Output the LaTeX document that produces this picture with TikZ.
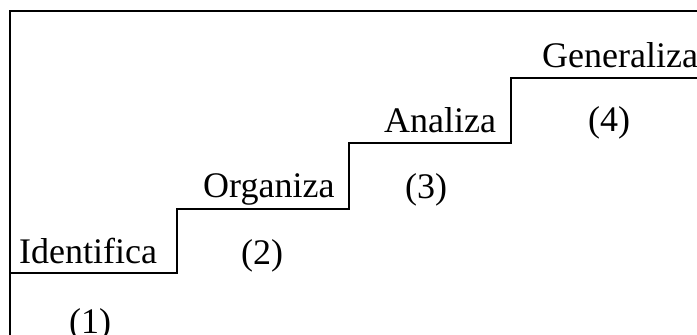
\documentclass[tikz,border=0pt]{standalone}
\usepackage{fontspec}
\setmainfont{Liberation Serif}
\begin{document}
\begin{tikzpicture}[x=1pt,y=-1pt,
  stairline/.style={line width=2pt, line join=miter},
  steplabel/.style={anchor=base west, inner sep=0pt, font=\fontsize{36}{40}\selectfont},
  numlabel/.style={anchor=base west, inner sep=0pt, font=\fontsize{36}{40}\selectfont}]
  \useasboundingbox (0,0) rectangle (697,335);
  \clip (0,0) rectangle (697,335);

  % frame: top and left edges
  \coordinate (tl) at (10,11);
  \coordinate (tr) at (700,11);
  \coordinate (bl) at (10,340);
  \draw[stairline] (tr) -- (tl) -- (bl);

  % staircase corners
  \coordinate (s0) at (10,273);
  \coordinate (s1) at (177,273);
  \coordinate (s2) at (177,208.5);
  \coordinate (s3) at (348.5,208.5);
  \coordinate (s4) at (348.5,143);
  \coordinate (s5) at (510.5,143);
  \coordinate (s6) at (510.5,77.5);
  \coordinate (s7) at (700,77.5);
  \draw[stairline] (s0) -- (s1) -- (s2) -- (s3) -- (s4) -- (s5) -- (s6) -- (s7);

  % step names
  \node[steplabel] (identifica) at (19,263) {Identifica};
  \node[steplabel] (organiza) at (203,197) {Organiza};
  \node[steplabel] (analiza) at (384,132) {Analiza};
  \node[steplabel] (generaliza) at (542,67) {Generaliza};

  % step numbers
  \node[numlabel] (n1) at (69,333) {(1)};
  \node[numlabel] (n2) at (241,264) {(2)};
  \node[numlabel] (n3) at (405,198) {(3)};
  \node[numlabel] (n4) at (588,131) {(4)};
\end{tikzpicture}
\end{document}
